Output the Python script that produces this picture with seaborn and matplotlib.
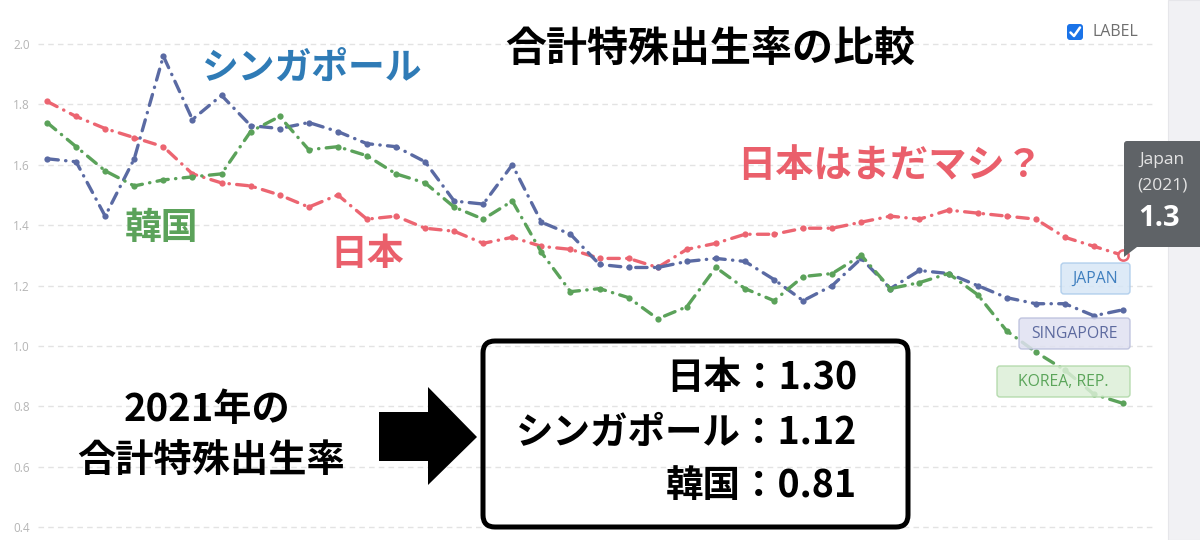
import pandas as pd
import matplotlib
matplotlib.use("Agg")
from matplotlib import pyplot as plt
from matplotlib import patches
from matplotlib.transforms import Affine2D
import seaborn as sns

# total fertility rate, 1984-2021
years = list(range(1984, 2022))
japan = [1.81, 1.76, 1.72, 1.69, 1.66, 1.57, 1.54, 1.53, 1.50, 1.46,
         1.50, 1.42, 1.43, 1.39, 1.38, 1.34, 1.36, 1.33, 1.32, 1.29,
         1.29, 1.26, 1.32, 1.34, 1.37, 1.37, 1.39, 1.39, 1.41, 1.43,
         1.42, 1.45, 1.44, 1.43, 1.42, 1.36, 1.33, 1.30]
singapore = [1.62, 1.61, 1.43, 1.62, 1.96, 1.75, 1.83, 1.73, 1.72, 1.74,
             1.71, 1.67, 1.66, 1.61, 1.48, 1.47, 1.60, 1.41, 1.37, 1.27,
             1.26, 1.26, 1.28, 1.29, 1.28, 1.22, 1.15, 1.20, 1.29, 1.19,
             1.25, 1.24, 1.20, 1.16, 1.14, 1.14, 1.10, 1.12]
korea = [1.74, 1.66, 1.58, 1.53, 1.55, 1.56, 1.57, 1.71, 1.76, 1.65,
         1.66, 1.63, 1.57, 1.54, 1.46, 1.42, 1.48, 1.31, 1.18, 1.19,
         1.16, 1.09, 1.13, 1.26, 1.19, 1.15, 1.23, 1.24, 1.30, 1.19,
         1.21, 1.24, 1.17, 1.05, 0.98, 0.92, 0.84, 0.81]
countries = ["Japan", "Singapore", "Korea, Rep."]
yticks = [0.4, 0.6, 0.8, 1.0, 1.2, 1.4, 1.6, 1.8, 2.0]
summary = ["日本：1.30", "シンガポール：1.12", "韓国：0.81"]

palette = {"Japan": "#ec6571", "Singapore": "#5a6aa3", "Korea, Rep.": "#5ba25a"}

W, H = 1200, 540
sns.set_theme(style="white")
plt.rcParams["font.family"] = ["Noto Sans CJK JP", "DejaVu Sans"]

fig = plt.figure(figsize=(W / 100, H / 100), dpi=100)
tpx = Affine2D().scale(1 / 100, -1 / 100).translate(0, H / 100) + fig.dpi_scale_trans  # pixel coords, y down

ax = fig.add_axes([38 / W, 0, (1153 - 38) / W, 1])
ax.set_xlim(1983.69, 2022.03)
ax.set_ylim(0.3576, 2.1457)

df = pd.DataFrame({
    "year": years * 3,
    "tfr": japan + singapore + korea,
    "country": ["Japan"] * len(years) + ["Singapore"] * len(years) + ["Korea, Rep."] * len(years),
})
sns.lineplot(
    data=df, x="year", y="tfr", hue="country", style="country",
    hue_order=countries, style_order=countries, palette=palette,
    dashes={c: (3.4, 2.2, 0.1, 2.2) for c in countries},
    markers={c: "o" for c in countries}, markersize=4.5,
    markeredgewidth=0, linewidth=2.4, legend=False, ax=ax,
)
for line in ax.lines:
    line.set_dash_capstyle("round")

# open marker on the hovered point
sns.scatterplot(x=[years[-1]], y=[japan[-1]], s=55, facecolor="white",
                edgecolor=palette["Japan"], linewidth=1.8, zorder=5, ax=ax)

ax.set_yticks(yticks)
ax.set_yticklabels([f"{v:.1f}" for v in yticks], family="Open Sans", fontsize=8.5, color="#b5b5b5")
ax.tick_params(axis="y", length=0, pad=6)
ax.set_xticks([])
ax.grid(axis="y", color="#e3e3e3", linestyle=(0, (4, 3)), linewidth=1)
ax.set_xlabel("")
ax.set_ylabel("")
for s in ax.spines.values():
    s.set_visible(False)

# right gray strip
fig.patches.append(patches.Rectangle((1168, 0), 40, H, transform=tpx, fc="#f1f1f4", ec="#e6e6ea", lw=0.8))

# LABEL checkbox
fig.patches.append(patches.FancyBboxPatch((1067, 24), 16, 16, boxstyle="round,pad=0,rounding_size=3",
                                          transform=tpx, fc="#1a73e8", ec="none"))
fig.lines.append(plt.Line2D([1070.5, 1074, 1080], [32.5, 36, 27.5], transform=tpx, color="white",
                            lw=1.8, solid_capstyle="round", solid_joinstyle="round"))
fig.text(1093, 32, "LABEL", transform=tpx, ha="left", va="center", family="Open Sans", fontsize=11.5, color="#6f6f6f")

# headings and series labels
fig.text(710, 50, "合計特殊出生率の比較", transform=tpx, ha="center", va="center", fontsize=29.5, weight="bold", color="black")
fig.text(312, 68, "シンガポール", transform=tpx, ha="center", va="center", fontsize=26.5, weight="bold", color="#2f7bb6")
fig.text(162, 228, "韓国", transform=tpx, ha="center", va="center", fontsize=26.5, weight="bold", color="#5ba25a")
fig.text(367, 255, "日本", transform=tpx, ha="center", va="center", fontsize=26.5, weight="bold", color="#ea5f6b")
fig.text(890, 166, "日本はまだマシ？", transform=tpx, ha="center", va="center", fontsize=27.5, weight="bold", color="#ea5f6b")

# tooltip
fig.patches.append(patches.FancyBboxPatch((1124, 141), 90, 106, boxstyle="round,pad=0,rounding_size=3",
                                          transform=tpx, fc="#5f6367", ec="none", zorder=6))
fig.patches.append(patches.Polygon([(1124, 245), (1137, 247), (1124, 257)], closed=True, transform=tpx,
                                   fc="#5f6367", ec="none", zorder=6))
fig.text(1162, 160, "Japan", transform=tpx, ha="center", va="center", family="Open Sans", fontsize=12.5, color="#e4e4e4", zorder=7)
fig.text(1162, 186, "(2021)", transform=tpx, ha="center", va="center", family="Open Sans", fontsize=12.5, color="#e4e4e4", zorder=7)
fig.text(1159, 218, f"{japan[-1]:.1f}", transform=tpx, ha="center", va="center", family="Open Sans", fontsize=21, weight="bold", color="white", zorder=7)

# end labels
end_labels = [
    ((1061, 263, 1130, 294), "JAPAN", "#d7e7f6", "#a8c9ea", "#3f7fbf"),
    ((1019, 318, 1130, 349), "SINGAPORE", "#e0e1f1", "#b7bcda", "#5d6a9f"),
    ((997, 366, 1130, 397), "KOREA, REP.", "#dcefd8", "#abd6a3", "#5ba55a"),
]
for (x0, y0, x1, y1), text, fc, ec, tc in end_labels:
    fig.patches.append(patches.FancyBboxPatch((x0, y0), x1 - x0, y1 - y0, boxstyle="round,pad=0,rounding_size=3",
                                              transform=tpx, fc=fc, ec=ec, lw=1, alpha=0.85, zorder=4))
    fig.text((x0 + x1) / 2, (y0 + y1) / 2, text, transform=tpx, ha="center", va="center",
             family="Open Sans", fontsize=11.3, color=tc, zorder=5)

# left caption + arrow
fig.text(207, 410, "2021年の", transform=tpx, ha="center", va="center", fontsize=27.5, weight="bold", color="black")
fig.text(211, 460, "合計特殊出生率", transform=tpx, ha="center", va="center", fontsize=27.5, weight="bold", color="black")
fig.patches.append(patches.Polygon([(379, 412), (428, 412), (428, 387), (477, 437), (428, 485), (428, 461), (379, 461)],
                                   closed=True, transform=tpx, fc="black", ec="none"))

# summary box
fig.patches.append(patches.FancyBboxPatch((483, 341), 425, 186, boxstyle="round,pad=0,rounding_size=12",
                                          transform=tpx, fc="none", ec="black", lw=3.6))
for yy, text in zip([378, 432, 486], summary):
    fig.text(857, yy, text, transform=tpx, ha="right", va="center", fontsize=27, weight="bold", color="black")

fig.savefig("out.png", dpi=100)
